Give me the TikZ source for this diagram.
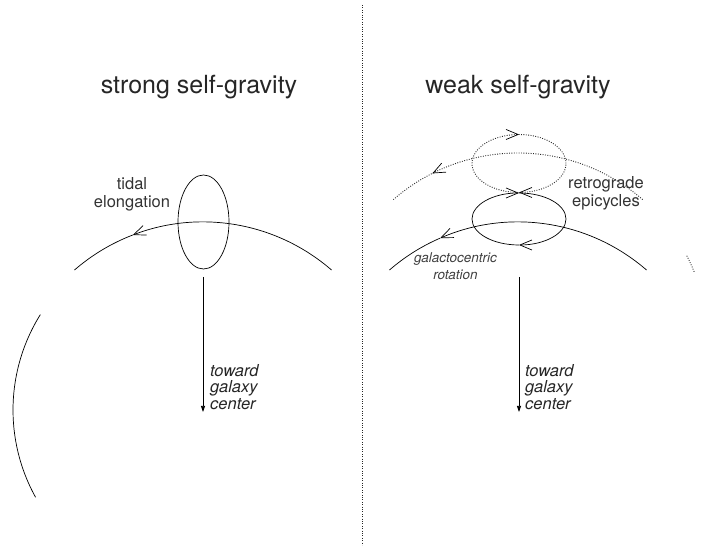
\documentclass[tikz,border=0pt]{standalone}
\usepackage{fontspec}
\setmainfont{TeX Gyre Heros}
\usetikzlibrary{arrows.meta,calc,shapes.geometric}
\tikzset{
  ln/.style={line width=0.7pt, black},
  dotln/.style={line width=0.9pt, black!85, dash pattern=on 0.9pt off 1.5pt},
  barb/.style={-{Straight Barb[length=12pt,width=10pt,line width=0.7pt]}},
  downarr/.style={line width=0.7pt, -{Triangle[length=6pt,width=4pt]}},
  title/.style={font=\fontsize{25}{28}\selectfont, text=black!85},
  lab/.style={font=\fontsize{16.5}{18}\selectfont, text=black!80, align=center},
  small/.style={font=\fontsize{13.5}{17}\selectfont\itshape, text=black!75, align=center},
  dirlab/.style={font=\fontsize{16.5}{16.5}\selectfont\itshape, text=black!85, align=left, anchor=west, inner sep=0pt}
}
\begin{document}
\begin{tikzpicture}[x=1pt,y=1pt]
\useasboundingbox (0,0) rectangle (705,548);
% divider
\coordinate (divtop) at (362,543);
\coordinate (divbot) at (362,3);
\draw[dotln] (divtop) -- (divbot);
% titles
\node[title] (t1) at (199,461) {strong self-gravity};
\node[title] (t2) at (518,461) {weak self-gravity};
% ---------- left panel ----------
\coordinate (lc) at (203,130);
\draw[ln,barb] ($(lc)+(49:196)$) arc[start angle=49,end angle=111,radius=196];
\draw[ln] ($(lc)+(111:196)$) arc[start angle=111,end angle=131,radius=196];
\node[draw, ln, ellipse, minimum width=51pt, minimum height=94pt, inner sep=0pt] (tidal) at (203.5,326) {};
\node[lab] (tlab) at (132,354) {tidal\\elongation};
\coordinate (la1) at (203,271);
\coordinate (la2) at (203,136);
\draw[downarr] (la1) -- (la2);
\node[dirlab] (ltxt) at (210,161) {toward\\galaxy\\center};
% partial large circle at far left
\coordinate (bc) at (193,138);
\draw[ln] ($(bc)+(148:180)$) arc[start angle=148,end angle=209,radius=180];
% ---------- right panel ----------
\coordinate (rc) at (518,130);
\draw[ln,barb] ($(rc)+(49:196)$) arc[start angle=49,end angle=113.4,radius=196];
\draw[ln] ($(rc)+(113.4:196)$) arc[start angle=113.4,end angle=131,radius=196];
% solid epicycle
\coordinate (ec) at (519,329);
\draw[ln,barb] ($(ec)+(-47,0)$) arc[start angle=180,end angle=90,x radius=47,y radius=26];
\draw[ln,barb] ($(ec)+(0,26)$) arc[start angle=90,end angle=-90,x radius=47,y radius=26];
\draw[ln] ($(ec)+(0,-26)$) arc[start angle=-90,end angle=-180,x radius=47,y radius=26];
% dotted guiding arc
\coordinate (dc) at (518,205);
\draw[dotln] ($(dc)+(49:190)$) arc[start angle=49,end angle=131,radius=190];
\draw[ln,barb] ($(dc)+(116.2:190)$) -- ($(dc)+(116.8:190)$);
\draw[dotln] ($(dc)+(22:190)$) arc[start angle=22,end angle=27.5,radius=190];
% dotted epicycle
\coordinate (de) at (519,384.5);
\draw[dotln] (de) ellipse[x radius=47,y radius=29];
\draw[ln,barb] ($(de)+(-2,29)$) -- ($(de)+(0,29)$);
\draw[ln,barb] ($(de)+(2,-29)$) -- ($(de)+(0,-29)$);
\node[lab] (rlab) at (606,355) {retrograde\\epicycles};
\node[small] (glab) at (455.5,282) {galactocentric\\rotation};
\coordinate (ra1) at (519,271);
\coordinate (ra2) at (519,136);
\draw[downarr] (ra1) -- (ra2);
\node[dirlab] (rtxt) at (525,161) {toward\\galaxy\\center};
\end{tikzpicture}
\end{document}
